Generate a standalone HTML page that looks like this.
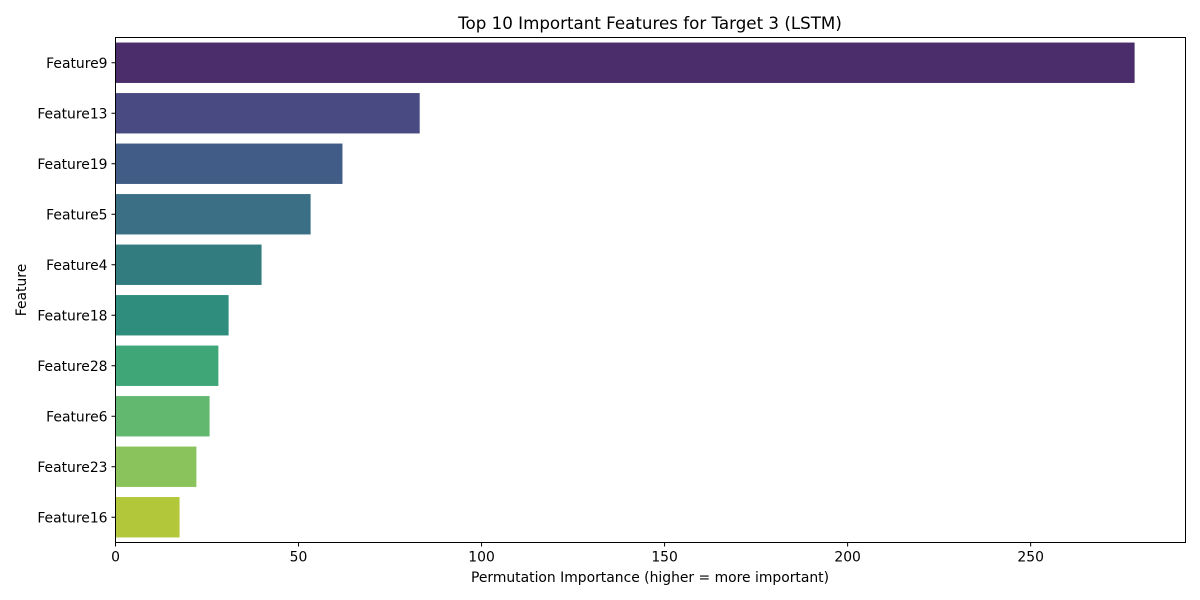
<!DOCTYPE html>
<html><head><meta charset="utf-8"><style>
body{margin:0;background:#fff;}
svg{display:block;font-family:"DejaVu Sans","Liberation Sans",sans-serif;}
</style></head><body>
<svg id="chart" width="1200" height="600">
<text x="650" y="29" text-anchor="middle" font-size="16.7">Top 10 Important Features for Target 3 (LSTM)</text>
<text x="650" y="582" text-anchor="middle" font-size="13.9">Permutation Importance (higher = more important)</text>
<text x="26" y="290" text-anchor="middle" font-size="13.9" transform="rotate(-90 26 290)">Feature</text>
<g id="bars"></g><g id="xticks"></g><g id="yticks"></g>
<rect x="115.5" y="37.5" width="1070" height="505" fill="none" stroke="#000" stroke-width="1"/>
</svg>
<script>
const categories=["Feature9","Feature13","Feature19","Feature5","Feature4","Feature18","Feature28","Feature6","Feature23","Feature16"];
const values=[278.4,83.1,62.0,53.3,39.9,30.9,28.1,25.7,22.1,17.5];
const xTicks=[0,50,100,150,200,250];
const colors=["#4b2d6b","#4a4a82","#415c87","#3a6f86","#327c80","#2f8d7e","#3ea677","#63b86f","#8ac35c","#b2c83a"];
const X0=115.5,X1=1185.5,XMAX=292.3,Y0=37.5,Y1=542.5;
const x=v=>X0+v/XMAX*(X1-X0);
const band=(Y1-Y0)/categories.length;
const yc=i=>Y0+band*(i+0.5);
const ns="http://www.w3.org/2000/svg";
const bars=document.getElementById('bars'),xt=document.getElementById('xticks'),yt=document.getElementById('yticks');
values.forEach((v,i)=>{
 const r=document.createElementNS(ns,'rect');
 r.setAttribute('x',X0);r.setAttribute('y',yc(i)-band*0.4);
 r.setAttribute('width',x(v)-X0);r.setAttribute('height',band*0.8);
 r.setAttribute('fill',colors[i]);
 
 
 bars.appendChild(r);
 const l=document.createElementNS(ns,'line');
 l.setAttribute('x1',X0-4);l.setAttribute('x2',X0);l.setAttribute('y1',yc(i));l.setAttribute('y2',yc(i));l.setAttribute('stroke','#000');
 yt.appendChild(l);
 const t=document.createElementNS(ns,'text');
 t.setAttribute('x',X0-8);t.setAttribute('y',yc(i)+5);t.setAttribute('text-anchor','end');t.setAttribute('font-size','13.9');
 t.textContent=categories[i];
 
 
 yt.appendChild(t);
});
xTicks.forEach(v=>{
 const l=document.createElementNS(ns,'line');
 l.setAttribute('x1',x(v));l.setAttribute('x2',x(v));l.setAttribute('y1',Y1);l.setAttribute('y2',Y1+4);l.setAttribute('stroke','#000');
 xt.appendChild(l);
 const t=document.createElementNS(ns,'text');
 t.setAttribute('x',x(v));t.setAttribute('y',Y1+19);t.setAttribute('text-anchor','middle');t.setAttribute('font-size','13.9');
 t.textContent=v;
 
 
 xt.appendChild(t);
});
</script>
</body></html>
